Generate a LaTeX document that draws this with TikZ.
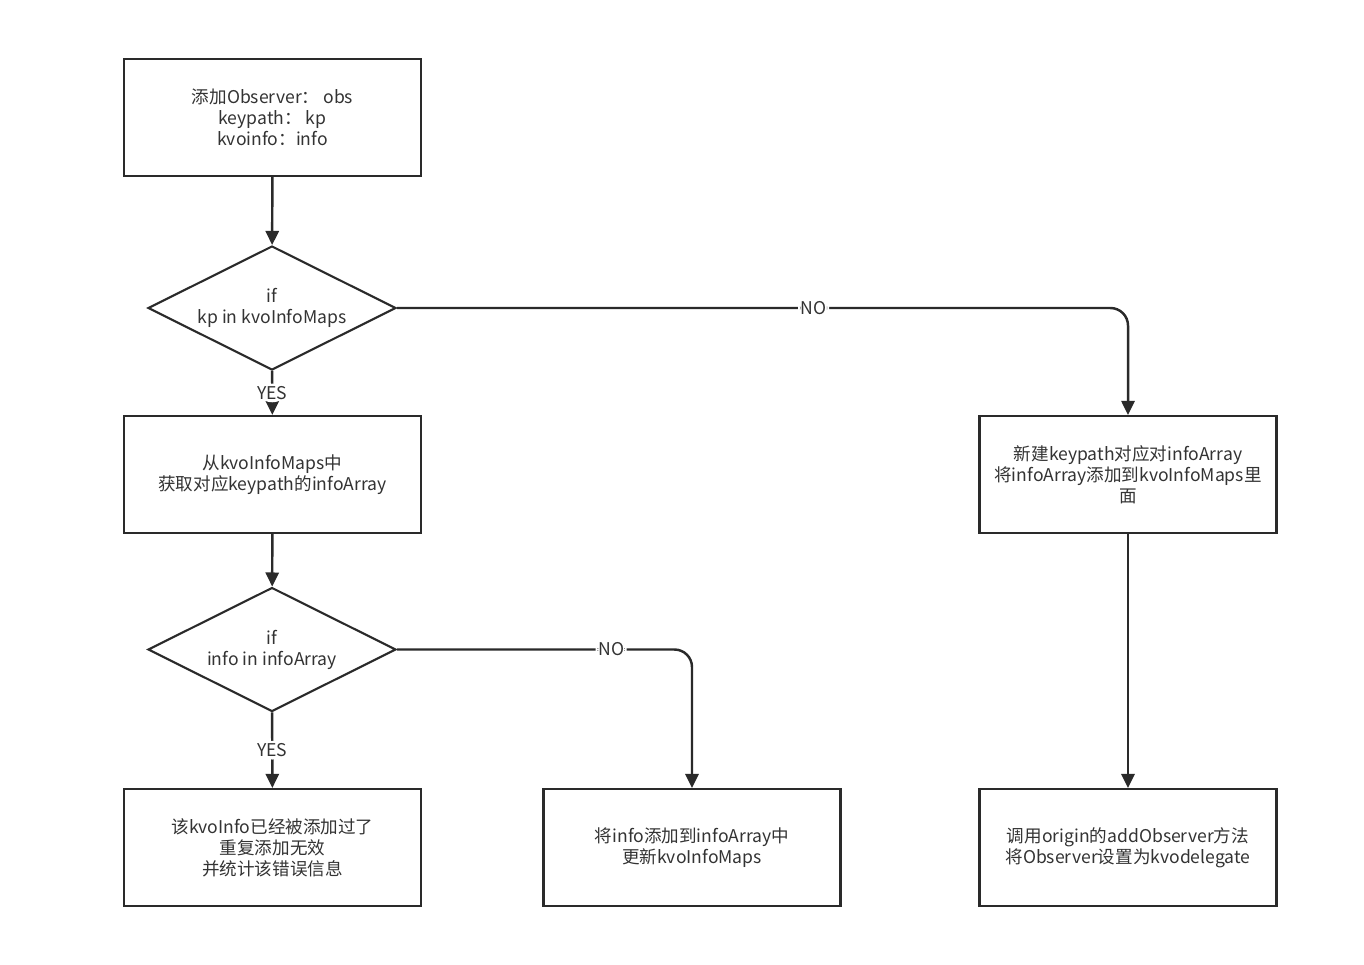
\documentclass[tikz,border=0pt]{standalone}
\usepackage{fontspec}
\setmainfont{Noto Sans CJK SC}
\usetikzlibrary{arrows.meta,shapes.geometric}
\definecolor{ln}{HTML}{2A2A2A}
\definecolor{tx}{HTML}{333333}
\begin{document}
\begin{tikzpicture}[x=0.02cm,y=-0.02cm,
  every node/.style={font=\fontsize{10pt}{11.9pt}\selectfont,text=tx},
  box/.style={draw=ln,line width=1.2pt,minimum width=297*0.02cm,minimum height=117*0.02cm,align=center,inner sep=0pt},
  dia/.style={draw=ln,line width=1.2pt,diamond,aspect=2,minimum width=248*0.02cm,minimum height=124*0.02cm,align=center,inner sep=0pt},
  arr/.style={draw=ln,line width=1.4pt,-{Triangle[length=8pt,width=7.5pt]},rounded corners=10pt},
  lbl/.style={fill=white,inner sep=1.5pt}]
\useasboundingbox (0,0) rectangle (1364,964);
\node[box] (start) at (272.5,117.5) {添加Observer： obs\\keypath： kp\\kvoinfo：info};
\node[dia] (d1) at (272,308) {if\\kp in kvoInfoMaps};
\node[box] (get) at (272.5,474.5) {从kvoInfoMaps中\\获取对应keypath的infoArray};
\node[dia] (d2) at (272,649.5) {if\\info in infoArray};
\node[box] (dup) at (272.5,847.5) {该kvoInfo已经被添加过了\\重复添加无效\\并统计该错误信息};
\node[box] (add) at (692,847.5) {将info添加到infoArray中\\更新kvoInfoMaps};
\node[box] (new) at (1128,474.5) {新建keypath对应对infoArray\\将infoArray添加到kvoInfoMaps里\\面};
\node[box] (call) at (1128,847.5) {调用origin的addObserver方法\\将Observer设置为kvodelegate};
\draw[arr] (start) -- (d1);
\draw[arr] (d1) -- node[lbl]{YES} (get);
\draw[arr] (get) -- (d2);
\draw[arr] (d2) -- node[lbl]{YES} (dup);
\draw[arr] (d1.east) -| node[lbl,pos=0.285]{NO} (new.north);
\draw[arr] (d2.east) -| node[lbl,pos=0.363]{NO} (add.north);
\draw[arr] (new) -- (call);
\end{tikzpicture}
\end{document}
